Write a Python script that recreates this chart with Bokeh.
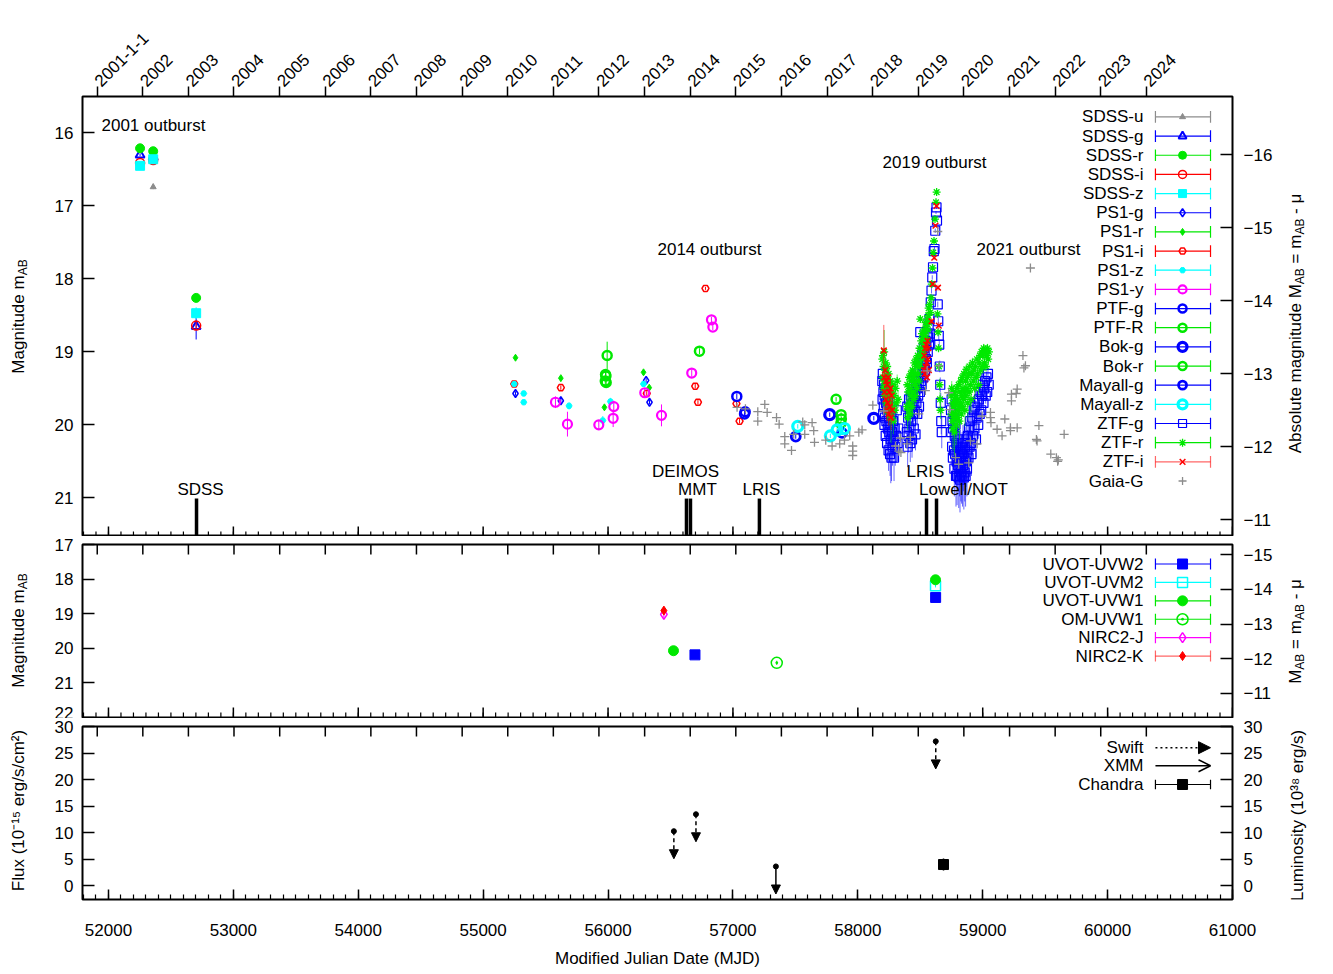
import math, datetime
from bokeh.plotting import figure
from bokeh.models import (Range1d, LinearAxis, FixedTicker, Label, Arrow, NormalHead,
                          OpenHead, ColumnDataSource)
from bokeh.layouts import column, row
from bokeh.core.properties import value
from bokeh.embed import file_html
from bokeh.resources import INLINE

FONT = "Liberation Sans"
FS = "17px"
MU = 32.3  # distance modulus used for the right-hand axes

BLUE, GREEN, RED, CYAN, MAG, GRAY = "#0000ff", "#00e800", "#ff0000", "#00ffff", "#ff00ff", "#8c8c8c"

# ------------------------------------------------------------------ data (top panel)
sdss_u_mjd = [52358]; sdss_u_mag = [16.74]; sdss_u_err = [0.03]
sdss_g_mjd = [52253, 52358, 52702]; sdss_g_mag = [16.30, 16.33, 18.65]; sdss_g_err = [0.02, 0.02, 0.18]
sdss_r_mjd = [52253, 52358, 52702]; sdss_r_mag = [16.21, 16.25, 18.26]; sdss_r_err = [0.02, 0.02, 0.05]
sdss_i_mjd = [52253, 52358, 52702]; sdss_i_mag = [16.41, 16.37, 18.64]; sdss_i_err = [0.02, 0.02, 0.06]
sdss_z_mjd = [52253, 52358, 52702]; sdss_z_mag = [16.45, 16.36, 18.47]; sdss_z_err = [0.03, 0.03, 0.08]

ps1_g_mjd = [55259, 55622, 56305, 56332]; ps1_g_mag = [19.57, 19.67, 19.39, 19.69]; ps1_g_err = [0.03, 0.03, 0.03, 0.03]
ps1_r_mjd = [55259, 55622, 55971, 56284, 56330]; ps1_r_mag = [19.08, 19.36, 19.76, 19.28, 19.49]; ps1_r_err = [0.02, 0.02, 0.03, 0.02, 0.03]
ps1_i_mjd = [55249, 55622, 56310, 56698, 56720, 56780, 57028, 57053]
ps1_i_mag = [19.44, 19.49, 19.57, 19.47, 19.69, 18.13, 19.71, 19.95]
ps1_i_err = [0.03, 0.03, 0.03, 0.03, 0.03, 0.02, 0.03, 0.03]
ps1_z_mjd = [55249, 55325, 55325, 55688, 56019, 55958, 56284]
ps1_z_mag = [19.44, 19.57, 19.69, 19.74, 19.68, 19.94, 19.44]
ps1_z_err = [0.04, 0.04, 0.04, 0.05, 0.05, 0.06, 0.04]
ps1_y_mjd = [55579, 55675, 55926, 56046, 56041, 56294, 56428, 56670, 56828, 56839]
ps1_y_mag = [19.69, 19.99, 20.00, 19.75, 19.91, 19.56, 19.87, 19.29, 18.56, 18.66]
ps1_y_err = [0.08, 0.17, 0.06, 0.08, 0.12, 0.06, 0.15, 0.05, 0.04, 0.04]

ptf_g_mjd = [57031, 57093, 57098]; ptf_g_mag = [19.61, 19.85, 19.82]; ptf_g_err = [0.04, 0.04, 0.04]
ptf_r_mjd = [55993, 55980, 55983, 55978, 55985, 56732]
ptf_r_mag = [19.05, 19.31, 19.33, 19.40, 19.42, 18.99]
ptf_r_err = [0.19, 0.05, 0.05, 0.05, 0.05, 0.04]

bok_g_mjd = [57775, 58128]; bok_g_mag = [19.86, 19.91]; bok_g_err = [0.03, 0.03]
bok_r_mjd = [57826, 57866, 57868, 57864]; bok_r_mag = [19.65, 19.86, 19.92, 19.98]; bok_r_err = [0.03, 0.03, 0.03, 0.03]
mayall_g_mjd = [57503, 57874]; mayall_g_mag = [20.16, 20.11]; mayall_g_err = [0.03, 0.03]
mayall_z_mjd = [57519, 57834, 57893, 57780]; mayall_z_mag = [20.02, 20.07, 20.05, 20.15]; mayall_z_err = [0.03, 0.03, 0.03, 0.03]

# ZTF photometry: (MJD, mag, err)
ztf_g = [
    (58196, 19.40, 0.09), (58198, 19.65, 0.12), (58200, 19.30, 0.08), (58203, 19.85, 0.15), (58205, 19.55, 0.10),
    (58208, 19.75, 0.13), (58210, 19.45, 0.09), (58213, 20.00, 0.18), (58215, 19.60, 0.11), (58218, 19.90, 0.16),
    (58220, 19.50, 0.10), (58223, 20.15, 0.22), (58226, 19.70, 0.12), (58229, 19.95, 0.17), (58231, 19.55, 0.10),
    (58234, 20.25, 0.25), (58237, 19.80, 0.14), (58240, 20.05, 0.19), (58243, 19.65, 0.12), (58246, 20.35, 0.28),
    (58249, 19.90, 0.16), (58252, 20.10, 0.20), (58255, 19.75, 0.13), (58258, 20.40, 0.30), (58261, 20.00, 0.18),
    (58264, 20.20, 0.60), (58267, 19.85, 0.15), (58270, 20.45, 0.32), (58274, 20.10, 0.20), (58278, 20.30, 0.26),
    (58282, 19.95, 0.17), (58286, 20.20, 0.23), (58290, 20.45, 0.32), (58295, 20.05, 0.19), (58300, 20.30, 0.26),
    (58306, 20.15, 0.22), (58312, 19.80, 0.14), (58318, 20.25, 0.25), (58324, 20.05, 0.19),
    (58392, 20.10, 0.22), (58396, 19.75, 0.14), (58399, 20.30, 0.28), (58403, 19.90, 0.17), (58406, 20.15, 0.23),
    (58410, 19.65, 0.12), (58413, 20.05, 0.20), (58417, 19.85, 0.16), (58420, 20.25, 0.26), (58424, 19.60, 0.11),
    (58427, 19.95, 0.18), (58431, 19.75, 0.14), (58434, 20.20, 0.25), (58438, 19.55, 0.10), (58441, 19.85, 0.16),
    (58445, 19.70, 0.13), (58448, 20.05, 0.20), (58452, 19.45, 0.09), (58455, 19.80, 0.15), (58459, 19.60, 0.11),
    (58462, 20.13, 0.22), (58466, 19.40, 0.09), (58469, 19.70, 0.13), (58473, 19.50, 0.10), (58476, 19.85, 0.16),
    (58480, 19.35, 0.08), (58483, 19.60, 0.11), (58487, 19.45, 0.09), (58490, 19.75, 0.14), (58494, 19.25, 0.08),
    (58497, 19.55, 0.10), (58500, 18.73, 0.05), (58504, 19.40, 0.09), (58507, 19.15, 0.07), (58511, 19.45, 0.09),
    (58514, 19.05, 0.07), (58518, 19.30, 0.08), (58521, 19.10, 0.07), (58525, 19.35, 0.08), (58528, 18.95, 0.06),
    (58532, 19.20, 0.07), (58535, 19.00, 0.06), (58539, 19.25, 0.08), (58542, 18.85, 0.06), (58546, 19.10, 0.07),
    (58549, 18.90, 0.06), (58553, 19.15, 0.07), (58556, 18.75, 0.05), (58560, 19.00, 0.06), (58563, 18.80, 0.05),
    (58567, 18.65, 0.05), (58570, 18.90, 0.06), (58574, 18.55, 0.05), (58577, 18.75, 0.05),
    (58584, 18.32, 0.04), (58590, 18.16, 0.04), (58596, 17.98, 0.03), (58602, 17.84, 0.03), (58608, 17.62, 0.03),
    (58614, 17.59, 0.03), (58620, 17.34, 0.03), (58626, 17.09, 0.02), (58630, 17.02, 0.02), (58634, 17.20, 0.02),
    (58640, 18.35, 0.04), (58644, 18.58, 0.05), (58648, 18.78, 0.06), (58652, 18.90, 0.07), (58656, 19.20, 0.08),
    (58660, 19.45, 0.10), (58664, 19.70, 0.14), (58668, 19.95, 0.18), (58672, 20.10, 0.22),
    (58746, 19.80, 0.14), (58749, 20.10, 0.21), (58751, 19.65, 0.12), (58755, 20.30, 0.27), (58758, 19.95, 0.18),
    (58761, 20.45, 0.32), (58763, 20.05, 0.20), (58767, 19.85, 0.15), (58770, 20.35, 0.28), (58773, 20.60, 0.38),
    (58776, 20.15, 0.22), (58779, 20.40, 0.30), (58782, 20.00, 0.19), (58786, 20.70, 0.42), (58789, 20.25, 0.25),
    (58792, 20.50, 0.35), (58795, 20.70, 0.40), (58798, 20.30, 0.27), (58801, 20.55, 0.36), (58805, 20.20, 0.24),
    (58808, 20.72, 0.42), (58811, 20.45, 0.32), (58815, 20.60, 0.38), (58818, 20.75, 0.45), (58821, 20.35, 0.28),
    (58825, 20.65, 0.40), (58828, 20.50, 0.35), (58831, 20.68, 0.40), (58835, 20.40, 0.30), (58838, 20.70, 0.42),
    (58842, 20.25, 0.25), (58845, 20.55, 0.36), (58849, 20.72, 0.44), (58852, 20.45, 0.32), (58856, 20.65, 0.40),
    (58859, 20.30, 0.27), (58863, 20.70, 0.42), (58866, 20.50, 0.35), (58870, 20.20, 0.24), (58874, 20.60, 0.38),
    (58878, 20.35, 0.28), (58882, 20.15, 0.22), (58886, 20.45, 0.32), (58890, 20.05, 0.20), (58895, 20.30, 0.27),
    (58900, 19.95, 0.18), (58905, 20.25, 0.25), (58910, 20.40, 0.30), (58916, 19.90, 0.17), (58922, 20.15, 0.22),
    (58928, 19.80, 0.14), (58934, 20.05, 0.20), (58940, 19.75, 0.13), (58946, 20.20, 0.24), (58952, 19.90, 0.17),
    (58958, 19.70, 0.13), (58964, 20.00, 0.19), (58970, 19.65, 0.12), (58976, 19.85, 0.15), (58982, 19.55, 0.10),
    (58988, 19.80, 0.14), (58994, 19.60, 0.11), (59000, 19.45, 0.09), (59006, 19.70, 0.13), (59012, 19.50, 0.10),
    (59018, 19.40, 0.09), (59024, 19.60, 0.11), (59030, 19.35, 0.08), (59036, 19.55, 0.10), (59042, 19.30, 0.08),
    (59048, 19.45, 0.09),
]
ztf_r = [
    (58196, 19.10, 0.06), (58198, 19.35, 0.08), (58201, 19.05, 0.06), (58203, 19.50, 0.10), (58206, 19.20, 0.07),
    (58209, 19.40, 0.09), (58211, 19.00, 0.30), (58214, 19.60, 0.11), (58217, 19.25, 0.07), (58220, 19.45, 0.09),
    (58223, 19.15, 0.07), (58226, 19.70, 0.13), (58229, 19.35, 0.08), (58232, 19.55, 0.10), (58235, 19.20, 0.07),
    (58238, 19.80, 0.15), (58241, 19.40, 0.09), (58244, 19.60, 0.11), (58247, 19.30, 0.08), (58250, 19.85, 0.16),
    (58254, 19.50, 0.10), (58258, 19.70, 0.13), (58262, 19.40, 0.09), (58266, 19.90, 0.35), (58270, 19.55, 0.10),
    (58275, 19.75, 0.14), (58280, 19.45, 0.09), (58285, 19.95, 0.18), (58290, 19.60, 0.11), (58296, 19.80, 0.15),
    (58302, 19.50, 0.10), (58308, 19.70, 0.13), (58315, 19.40, 0.09), (58322, 19.65, 0.12),
    (58392, 19.75, 0.14), (58396, 19.45, 0.10), (58399, 19.90, 0.17), (58403, 19.55, 0.11), (58406, 19.80, 0.15),
    (58410, 19.35, 0.09), (58413, 19.70, 0.13), (58417, 19.50, 0.10), (58420, 19.85, 0.16), (58424, 19.30, 0.08),
    (58427, 19.60, 0.11), (58431, 19.40, 0.09), (58434, 19.75, 0.14), (58438, 19.25, 0.08), (58441, 19.55, 0.10),
    (58445, 19.35, 0.09), (58448, 19.65, 0.12), (58452, 19.15, 0.07), (58455, 19.45, 0.10), (58459, 19.30, 0.08),
    (58463, 19.60, 0.11), (58466, 19.10, 0.07), (58469, 19.40, 0.09), (58473, 19.20, 0.07), (58476, 19.50, 0.10),
    (58480, 19.05, 0.06), (58483, 19.30, 0.08), (58487, 19.15, 0.07), (58490, 19.40, 0.09), (58494, 18.95, 0.06),
    (58497, 19.20, 0.07), (58500, 18.55, 0.05), (58504, 19.05, 0.06), (58507, 18.85, 0.05), (58511, 19.10, 0.07),
    (58514, 18.75, 0.05), (58518, 19.00, 0.06), (58521, 18.80, 0.05), (58525, 19.05, 0.06), (58528, 18.70, 0.05),
    (58532, 18.90, 0.05), (58535, 18.75, 0.05), (58539, 18.95, 0.06), (58542, 18.60, 0.04), (58546, 18.80, 0.05),
    (58549, 18.65, 0.04), (58553, 18.85, 0.05), (58556, 18.55, 0.04), (58560, 18.70, 0.04), (58563, 18.50, 0.04),
    (58567, 18.40, 0.04), (58570, 18.60, 0.04), (58574, 18.35, 0.03),
    (58580, 18.46, 0.03), (58586, 18.26, 0.03), (58592, 18.07, 0.03), (58598, 17.85, 0.02), (58604, 17.64, 0.02),
    (58610, 17.48, 0.02), (58618, 17.18, 0.02), (58626, 16.95, 0.02), (58631, 16.81, 0.02),
    (58638, 18.48, 0.03), (58642, 18.73, 0.04), (58646, 18.95, 0.05), (58650, 19.20, 0.06), (58654, 19.45, 0.08),
    (58658, 19.65, 0.10), (58662, 19.80, 0.12),
    (58746, 19.60, 0.11), (58749, 19.85, 0.15), (58752, 19.50, 0.10), (58756, 19.95, 0.17), (58759, 19.70, 0.13),
    (58762, 20.05, 0.30), (58765, 19.75, 0.14), (58768, 19.55, 0.10), (58771, 19.90, 0.16), (58774, 20.10, 0.32),
    (58777, 19.65, 0.12), (58780, 19.85, 0.15), (58784, 19.60, 0.11), (58787, 20.00, 0.28), (58790, 19.70, 0.13),
    (58793, 19.50, 0.10), (58797, 19.90, 0.16), (58800, 19.65, 0.12), (58804, 19.80, 0.15), (58807, 19.45, 0.09),
    (58811, 19.75, 0.14), (58814, 19.95, 0.25), (58818, 19.55, 0.10), (58821, 19.70, 0.13), (58825, 19.40, 0.09),
    (58828, 19.85, 0.15), (58832, 19.60, 0.11), (58835, 19.35, 0.08), (58839, 19.75, 0.14), (58842, 19.50, 0.10),
    (58846, 19.65, 0.12), (58850, 19.30, 0.08), (58853, 19.55, 0.10), (58857, 19.80, 0.22), (58861, 19.40, 0.09),
    (58865, 19.60, 0.11), (58869, 19.24, 0.08), (58873, 19.50, 0.10), (58877, 19.35, 0.08), (58881, 19.70, 0.20),
    (58886, 19.30, 0.08), (58891, 19.55, 0.10), (58896, 19.20, 0.07), (58901, 19.45, 0.09), (58906, 19.65, 0.18),
    (58912, 19.30, 0.08), (58918, 19.15, 0.07), (58924, 19.40, 0.09), (58930, 19.25, 0.08), (58936, 19.50, 0.15),
    (58942, 19.20, 0.07), (58948, 19.35, 0.08), (58954, 19.10, 0.07), (58960, 19.30, 0.08), (58966, 19.45, 0.14),
    (58972, 19.15, 0.07), (58978, 19.05, 0.06), (58984, 19.25, 0.08), (58990, 19.00, 0.06), (58996, 19.20, 0.07),
    (59002, 19.05, 0.06), (59008, 18.95, 0.06), (59014, 19.15, 0.07), (59020, 19.00, 0.06), (59026, 19.20, 0.07),
    (59032, 19.05, 0.06), (59038, 18.95, 0.06), (59044, 19.10, 0.07), (59050, 19.00, 0.06),
]
ztf_i = [
    (58208, 18.98, 0.35), (58211, 19.35, 0.08), (58215, 19.55, 0.10), (58219, 19.25, 0.08), (58223, 19.65, 0.12),
    (58227, 19.40, 0.09), (58231, 19.80, 0.15), (58235, 19.45, 0.09), (58239, 19.70, 0.13), (58243, 19.35, 0.08),
    (58247, 19.85, 0.16), (58251, 19.55, 0.10), (58256, 19.75, 0.14), (58261, 19.50, 0.10), (58266, 19.90, 0.17),
    (58271, 19.60, 0.11), (58276, 19.80, 0.15),
    (58530, 19.25, 0.08), (58533, 19.05, 0.06), (58537, 19.30, 0.08), (58540, 18.95, 0.06), (58544, 19.20, 0.07),
    (58547, 18.90, 0.05), (58551, 19.15, 0.07), (58554, 19.35, 0.08), (58558, 18.85, 0.05), (58561, 19.10, 0.06),
    (58565, 18.95, 0.06), (58569, 19.25, 0.08),
    (58590, 18.58, 0.04), (58600, 18.07, 0.03), (58612, 17.71, 0.03), (58622, 17.27, 0.02), (58630, 17.00, 0.02),
    (58642, 18.12, 0.04), (58648, 18.64, 0.05),
]
ztf_g_mjd = [r[0] for r in ztf_g]; ztf_g_mag = [r[1] for r in ztf_g]; ztf_g_err = [r[2] for r in ztf_g]
ztf_r_mjd = [r[0] for r in ztf_r]; ztf_r_mag = [r[1] for r in ztf_r]; ztf_r_err = [r[2] for r in ztf_r]
ztf_i_mjd = [r[0] for r in ztf_i]; ztf_i_mag = [r[1] for r in ztf_i]; ztf_i_err = [r[2] for r in ztf_i]

gaia_mjd = [57033, 57100, 57199, 57199, 57255, 57274, 57349, 57370, 57415, 57415, 57469, 57487, 57559,
            57575, 57575, 57634, 57647, 57653, 57743, 57794, 57855, 57893, 57935, 57959, 57959, 57959,
            58008, 58034, 58120, 58207, 58302, 58328, 58340, 58345, 58394, 58421, 58488, 58541, 58555,
            58640, 58648, 58728, 58736, 58782, 58808, 58888, 58902, 58955, 58995, 59062, 59062, 59066,
            59115, 59155, 59177, 59222, 59222, 59230, 59230, 59268, 59276, 59276, 59322, 59330, 59342,
            59382, 59430, 59435, 59450, 59545, 59590, 59600, 59605, 59652]
gaia_mag = [19.76, 19.78, 19.82, 19.95, 19.72, 19.83, 19.90, 19.99, 20.16, 20.26, 20.35, 20.13, 19.96,
            20.00, 20.13, 19.97, 20.08, 20.24, 20.21, 20.29, 20.26, 20.21, 20.15, 20.29, 20.36, 20.42,
            20.10, 20.07, 19.73, 19.81, 20.29, 20.36, 20.18, 20.38, 20.26, 20.17, 19.85, 19.53, 19.26,
            17.35, 19.19, 19.56, 19.79, 20.45, 20.54, 20.52, 20.22, 20.26, 19.88, 19.83, 19.90, 19.97,
            20.06, 20.15, 19.92, 20.04, 20.08, 19.58, 19.67, 19.57, 19.51, 20.04, 19.05, 19.22, 19.19,
            17.85, 20.20, 20.22, 20.01, 20.40, 20.45, 20.50, 20.48, 20.13]

spec_mjd = [52705, 56628, 56660, 57212, 58550, 58630]
spec_name = ["SDSS", "DEIMOS", "MMT", "LRIS", "LRIS", "Lowell/NOT"]

# ------------------------------------------------------------------ data (middle panel)
uvw2_mjd = [56696, 58623]; uvw2_mag = [20.19, 18.53]; uvw2_err = [0.05, 0.04]
uvm2_mjd = [58622]; uvm2_mag = [18.19]; uvm2_err = [0.05]
uvw1_mjd = [56524, 58622]; uvw1_mag = [20.07, 18.02]; uvw1_err = [0.05, 0.04]
om_uvw1_mjd = [57351]; om_uvw1_mag = [20.42]; om_uvw1_err = [0.06]
nirc2_j_mjd = [56447]; nirc2_j_mag = [19.02]; nirc2_j_err = [0.10]
nirc2_k_mjd = [56447]; nirc2_k_mag = [18.91]; nirc2_k_err = [0.10]

# ------------------------------------------------------------------ data (bottom panel, X-ray)
swift_mjd = [56527, 56704, 58624]; swift_flux_ul = [10.25, 13.45, 27.2]
xmm_mjd = [57344]; xmm_flux_ul = [3.6]
chandra_mjd = [58686]; chandra_flux = [3.96]; chandra_err = [1.15]

# ------------------------------------------------------------------ axes definitions
YEARS = list(range(2001, 2025))
YEAR_LABELS = ["2001-1-1"] + [str(y) for y in YEARS[1:]]
YEAR_MJD = [(datetime.date(y, 1, 1) - datetime.date(1858, 11, 17)).days for y in YEARS]
MJD_MAJOR = list(range(52000, 61001, 1000))
MJD_MINOR = list(range(51800, 61001, 100))

XR = Range1d(51792, 61000)
Y1 = (21.53, 15.5)
Y2 = (22.0, 17.0)
Y3 = (-2.64, 30.0)

AW = {' ': 278, '(': 333, ')': 333, '-': 333, '=': 584, '/': 278, 'A': 667, 'B': 667, 'M': 833,
      'a': 556, 'b': 556, 'c': 500, 'd': 556, 'e': 556, 'g': 556, 'i': 222, 'l': 222, 'm': 833,
      'n': 556, 'o': 556, 's': 500, 't': 278, 'u': 556, 'μ': 576}


def tw(s, size):
    return sum(AW.get(c, 556) for c in s) * size / 1000.0


def no_grid(p):
    p.xgrid.visible = False
    p.ygrid.visible = False


def make_fig(fh, yr, top, bottom):
    p = figure(x_range=XR, y_range=Range1d(*yr), frame_width=1150, frame_height=fh,
               output_backend="svg", toolbar_location=None,
               x_axis_location=None, y_axis_location=None,
               min_border_left=42, min_border_right=48, min_border_top=top, min_border_bottom=bottom)
    p.outline_line_color = "black"
    p.outline_line_width = 2
    p.outline_line_alpha = 1
    p.border_fill_color = "white"
    p.background_fill_color = "white"
    no_grid(p)
    return p


def side_fig(width, fh, top, bottom):
    # frame has the same vertical extent as the neighbouring panel; coordinates are pixels
    f = figure(frame_width=width, frame_height=fh, x_range=Range1d(0, width), y_range=Range1d(0, fh),
               output_backend="svg", toolbar_location=None, x_axis_location=None, y_axis_location=None,
               min_border_left=0, min_border_right=0, min_border_top=top, min_border_bottom=bottom)
    f.outline_line_color = None
    f.border_fill_color = "white"
    no_grid(f)
    return f


def x_axis(p, side, ticks, minor=None, tin=0, tout=0, min_in=0, overrides=None,
           orient="horizontal", standoff=4):
    ax = LinearAxis(ticker=FixedTicker(ticks=ticks, minor_ticks=minor or []),
                    major_tick_in=tin, major_tick_out=tout, minor_tick_in=min_in, minor_tick_out=0,
                    major_tick_line_width=1.5, minor_tick_line_width=1.2,
                    axis_line_color=None, major_label_standoff=standoff,
                    major_label_text_font=FONT, major_label_text_font_size=FS,
                    major_label_text_color="black", major_label_orientation=orient)
    if overrides:
        ax.major_label_overrides = overrides
    p.add_layout(ax, side)
    return ax


def y_axis(p, side, ticks, range_name="default", standoff=9):
    ax = LinearAxis(ticker=FixedTicker(ticks=ticks), y_range_name=range_name,
                    major_tick_in=12, major_tick_out=0, minor_tick_in=0, minor_tick_out=0,
                    major_tick_line_width=1.5, axis_line_color=None, major_label_standoff=standoff,
                    major_label_text_font=FONT, major_label_text_font_size=FS,
                    major_label_text_color="black")
    p.add_layout(ax, side)
    return ax


def tick_marks(p, xs, y_edge, dy, lw):
    p.segment(x0=xs, x1=xs, y0=[y_edge] * len(xs), y1=[y_edge + dy] * len(xs),
              line_color="black", line_width=lw)


def rot_text(f, x, yc, parts, main=17, sub=12):
    # parts: (text, is_subscript); text drawn rotated, reading bottom to top
    total = sum(tw(t, sub if s else main) for t, s in parts)
    y = yc - total / 2.0
    for t, s in parts:
        size = sub if s else main
        lead = len(t) - len(t.lstrip(' '))
        f.text(x=[x + (4 if s else 0)], y=[y + tw(' ' * lead, size)], text=[t.strip(' ')],
               angle=math.pi / 2, text_align="left", text_baseline="middle",
               text_font=value(FONT), text_font_size=value(f"{size}px"), text_color="black")
        y += tw(t, size)


def series(p, x, y, err, color, marker, size, fill=True, lw=1.2, ealpha=1.0, elw=1.0):
    if err is not None:
        p.segment(x0=x, x1=x, y0=[a - e for a, e in zip(y, err)], y1=[a + e for a, e in zip(y, err)],
                  line_color=color, line_width=elw, line_alpha=ealpha)
    p.scatter(x=x, y=y, marker=marker, size=size, line_color=color, line_width=lw,
              fill_color=color if fill else None, fill_alpha=1.0 if fill else 0.0)


def legend_row(p, yv, text, color, marker, size, fill, lw, lx, cap, line=True, lalpha=1.0):
    x0, xm, x1, xt = lx
    if line:
        p.segment(x0=[x0], x1=[x1], y0=[yv], y1=[yv], line_color=color, line_width=1.2, line_alpha=lalpha)
        p.segment(x0=[x0, x1], x1=[x0, x1], y0=[yv - cap] * 2, y1=[yv + cap] * 2,
                  line_color=color, line_width=1.2, line_alpha=lalpha)
    if marker:
        p.scatter(x=[xm], y=[yv], marker=marker, size=size, line_color=color, line_width=lw,
                  fill_color=color if fill else None, fill_alpha=1.0 if fill else 0.0)
    if text:
        p.text(x=[xt], y=[yv], text=[text], text_align="right", text_baseline="middle",
               text_font=value(FONT), text_font_size=value(FS), text_color="black")


LX = (60383, 60600, 60824, 60287)

# ================================================================== TOP PANEL
T1, F1, B1 = 96, 440, 0
p1 = make_fig(F1, Y1, T1, B1)
p1.extra_y_ranges = {"abs": Range1d(Y1[0] - MU, Y1[1] - MU)}
x_axis(p1, "above", YEAR_MJD, tout=10,
       overrides={m: l for m, l in zip(YEAR_MJD, YEAR_LABELS)}, orient=math.pi / 4, standoff=3)
tick_marks(p1, MJD_MINOR, Y1[0], -0.068, 1.2)
tick_marks(p1, MJD_MAJOR, Y1[0], -0.137, 1.5)
y_axis(p1, "left", [16, 17, 18, 19, 20, 21])
y_axis(p1, "right", [-16, -15, -14, -13, -12, -11], "abs", standoff=11)

top_styles = [
    ("SDSS-u", sdss_u_mjd, sdss_u_mag, sdss_u_err, GRAY, "triangle", 6, True, 1.0),
    ("SDSS-g", sdss_g_mjd, sdss_g_mag, sdss_g_err, BLUE, "triangle", 9, False, 2.0),
    ("SDSS-r", sdss_r_mjd, sdss_r_mag, sdss_r_err, GREEN, "circle", 9, True, 1.0),
    ("SDSS-i", sdss_i_mjd, sdss_i_mag, sdss_i_err, RED, "circle", 9, False, 1.5),
    ("SDSS-z", sdss_z_mjd, sdss_z_mag, sdss_z_err, CYAN, "square", 9, True, 1.0),
    ("PS1-g", ps1_g_mjd, ps1_g_mag, ps1_g_err, BLUE, "diamond", 8, False, 1.5),
    ("PS1-r", ps1_r_mjd, ps1_r_mag, ps1_r_err, GREEN, "diamond", 7, True, 1.0),
    ("PS1-i", ps1_i_mjd, ps1_i_mag, ps1_i_err, RED, "hex", 7, False, 1.5),
    ("PS1-z", ps1_z_mjd, ps1_z_mag, ps1_z_err, CYAN, "hex", 6, True, 1.0),
    ("PS1-y", ps1_y_mjd, ps1_y_mag, ps1_y_err, MAG, "circle", 9, False, 2.2),
    ("PTF-g", ptf_g_mjd, ptf_g_mag, ptf_g_err, BLUE, "circle", 9, False, 2.5),
    ("PTF-R", ptf_r_mjd, ptf_r_mag, ptf_r_err, GREEN, "circle", 9, False, 2.5),
    ("Bok-g", bok_g_mjd, bok_g_mag, bok_g_err, BLUE, "circle", 10, False, 3.2),
    ("Bok-r", bok_r_mjd, bok_r_mag, bok_r_err, GREEN, "circle", 9, False, 2.5),
    ("Mayall-g", mayall_g_mjd, mayall_g_mag, mayall_g_err, BLUE, "circle", 9, False, 2.8),
    ("Mayall-z", mayall_z_mjd, mayall_z_mag, mayall_z_err, CYAN, "circle", 10, False, 3.2),
    ("ZTF-g", ztf_g_mjd, ztf_g_mag, ztf_g_err, BLUE, "square", 9, False, 1.2),
    ("ZTF-r", ztf_r_mjd, ztf_r_mag, ztf_r_err, GREEN, "asterisk", 8, False, 1.3),
    ("ZTF-i", ztf_i_mjd, ztf_i_mag, ztf_i_err, RED, "x", 8, False, 1.5),
    ("Gaia-G", gaia_mjd, gaia_mag, None, GRAY, "cross", 9, False, 1.3),
]
for name, x, y, e, c, mk, sz, fl, lw in top_styles:
    ea = 0.6 if name.startswith("ZTF") else 1.0
    series(p1, x, y, e, c, mk, sz, fl, lw, ealpha=ea)

# spectroscopic epochs
p1.segment(x0=spec_mjd, x1=spec_mjd, y0=[21.01] * len(spec_mjd), y1=[21.6] * len(spec_mjd),
           line_color="black", line_width=3.5)
spec_lab_pos = [(4, 20.88), (-1, 20.64), (7, 20.88), (2, 20.88), (-1, 20.64), (27, 20.88)]
for m, n, (dx, yy) in zip(spec_mjd, spec_name, spec_lab_pos):
    p1.add_layout(Label(x=m, y=yy, x_offset=dx, text=n, text_align="center", text_baseline="middle",
                        text_font=FONT, text_font_size=FS, text_color="black"))

for t, xx, yy in [("2001 outburst", 51944, 15.90), ("2014 outburst", 56396, 17.60),
                  ("2019 outburst", 58198, 16.41), ("2021 outburst", 58950, 17.60)]:
    p1.add_layout(Label(x=xx, y=yy, text=t, text_align="left", text_baseline="middle",
                        text_font=FONT, text_font_size=FS, text_color="black"))

for i, (name, x, y, e, c, mk, sz, fl, lw) in enumerate(top_styles):
    yv = 15.78 + i * 0.2626
    legend_row(p1, yv, name, c, mk, sz if sz < 9 else sz - 1, fl, lw, LX, 0.08,
               line=(name != "Gaia-G"), lalpha=0.6 if name == "ZTF-i" else 1.0)

p1.add_layout(Label(x=575, y=526, x_units="screen", y_units="screen", text="Year", text_align="center",
                    text_baseline="middle", text_font=FONT, text_font_size=FS, text_color="black"))

l1 = side_fig(40, F1, T1, B1)
rot_text(l1, 18, 220, [("Magnitude m", False), ("AB", True)])
r1 = side_fig(45, F1, T1, B1)
rot_text(r1, 15, 213, [("Absolute magnitude M", False), ("AB", True), (" = m", False),
                       ("AB", True), (" - μ", False)])

# ================================================================== MIDDLE PANEL
T2, F2, B2 = 8, 173, 1
p2 = make_fig(F2, Y2, T2, B2)
p2.extra_y_ranges = {"abs": Range1d(Y2[0] - MU, Y2[1] - MU)}
tick_marks(p2, YEAR_MJD, Y2[1], 0.289, 1.5)
tick_marks(p2, MJD_MINOR, Y2[0], -0.145, 1.2)
tick_marks(p2, MJD_MAJOR, Y2[0], -0.289, 1.5)
y_axis(p2, "left", [17, 18, 19, 20, 21, 22])
y_axis(p2, "right", [-15, -14, -13, -12, -11], "abs", standoff=11)

mid_styles = [
    ("UVOT-UVW2", uvw2_mjd, uvw2_mag, uvw2_err, BLUE, "square", 10, True, 1.0),
    ("UVOT-UVM2", uvm2_mjd, uvm2_mag, uvm2_err, CYAN, "square", 10, False, 1.5),
    ("UVOT-UVW1", uvw1_mjd, uvw1_mag, uvw1_err, GREEN, "circle", 10, True, 1.0),
    ("OM-UVW1", om_uvw1_mjd, om_uvw1_mag, om_uvw1_err, GREEN, "circle_dot", 11, False, 1.5),
    ("NIRC2-J", nirc2_j_mjd, nirc2_j_mag, nirc2_j_err, MAG, "diamond", 10, False, 1.5),
    ("NIRC2-K", nirc2_k_mjd, nirc2_k_mag, nirc2_k_err, RED, "diamond", 9, True, 1.0),
]
for name, x, y, e, c, mk, sz, fl, lw in mid_styles:
    series(p2, x, y, e, c, mk, sz, fl, lw)
for i, (name, x, y, e, c, mk, sz, fl, lw) in enumerate(mid_styles):
    legend_row(p2, 17.564 + i * 0.532, name, c, mk, sz, fl, lw, LX, 0.16,
               lalpha=0.6 if name == "NIRC2-K" else 1.0)

l2 = side_fig(40, F2, T2, B2)
rot_text(l2, 18, 87, [("Magnitude m", False), ("AB", True)])
r2 = side_fig(45, F2, T2, B2)
rot_text(r2, 15, 86, [("M", False), ("AB", True), (" = m", False), ("AB", True), (" - μ", False)])

# ================================================================== BOTTOM PANEL
T3, F3, B3 = 8, 173, 72
p3 = make_fig(F3, Y3, T3, B3)
p3.extra_y_ranges = {"lum": Range1d(*Y3)}
tick_marks(p3, YEAR_MJD, Y3[1], -1.89, 1.5)
bx = x_axis(p3, "below", MJD_MAJOR, MJD_MINOR, tin=10, min_in=5, standoff=24)
bx.axis_label = "Modified Julian Date (MJD)"
bx.axis_label_text_font = FONT
bx.axis_label_text_font_size = FS
bx.axis_label_text_font_style = "normal"
bx.axis_label_text_color = "black"
bx.axis_label_standoff = 10
y_axis(p3, "left", [0, 5, 10, 15, 20, 25, 30])
y_axis(p3, "right", [0, 5, 10, 15, 20, 25, 30], "lum", standoff=11)

ARROW_LEN = 5.2
swift_src = ColumnDataSource(dict(x=swift_mjd, y=swift_flux_ul, ye=[f - ARROW_LEN for f in swift_flux_ul]))
p3.add_layout(Arrow(source=swift_src, x_start="x", y_start="y", x_end="x", y_end="ye",
                    line_color="black", line_width=1.5, line_dash="4 3",
                    end=NormalHead(size=9, fill_color="black", line_color="black")))
p3.scatter(x=swift_mjd, y=swift_flux_ul, marker="circle", size=5, color="black")
xmm_src = ColumnDataSource(dict(x=xmm_mjd, y=xmm_flux_ul, ye=[f - ARROW_LEN for f in xmm_flux_ul]))
p3.add_layout(Arrow(source=xmm_src, x_start="x", y_start="y", x_end="x", y_end="ye",
                    line_color="black", line_width=1.5,
                    end=NormalHead(size=9, fill_color="black", line_color="black")))
p3.scatter(x=xmm_mjd, y=xmm_flux_ul, marker="circle", size=5, color="black")
series(p3, chandra_mjd, chandra_flux, chandra_err, "black", "square", 10, True, 1.0, elw=1.5)

# legend (bottom)
LY3 = [26.0, 22.6, 19.06]
p3.text(x=[LX[3]] * 3, y=LY3, text=["Swift", "XMM", "Chandra"], text_align="right",
        text_baseline="middle", text_font=value(FONT), text_font_size=value(FS), text_color="black")
p3.add_layout(Arrow(x_start=LX[0], y_start=LY3[0], x_end=LX[2], y_end=LY3[0], line_color="black",
                    line_width=1.5, line_dash="2 3",
                    end=NormalHead(size=12, fill_color="black", line_color="black")))
p3.add_layout(Arrow(x_start=LX[0], y_start=LY3[1], x_end=LX[2], y_end=LY3[1], line_color="black",
                    line_width=1.5, end=OpenHead(size=12, line_color="black", line_width=1.5)))
legend_row(p3, LY3[2], "", "black", "square", 10, True, 1.0, LX, 0.9)

l3 = side_fig(40, F3, T3, B3)
l3.text(x=[18], y=[89], text=["Flux (10⁻¹⁵ erg/s/cm²)"], angle=math.pi / 2, text_align="center",
        text_baseline="middle", text_font=value(FONT), text_font_size=value(FS), text_color="black")
r3 = side_fig(45, F3, T3, B3)
r3.text(x=[17], y=[84], text=["Luminosity (10³⁸ erg/s)"], angle=math.pi / 2, text_align="center",
        text_baseline="middle", text_font=value(FONT), text_font_size=value(FS), text_color="black")

layout = column(row(l1, p1, r1, spacing=0), row(l2, p2, r2, spacing=0), row(l3, p3, r3, spacing=0),
                spacing=0)
open("out.html", "w").write(file_html(layout, INLINE))
